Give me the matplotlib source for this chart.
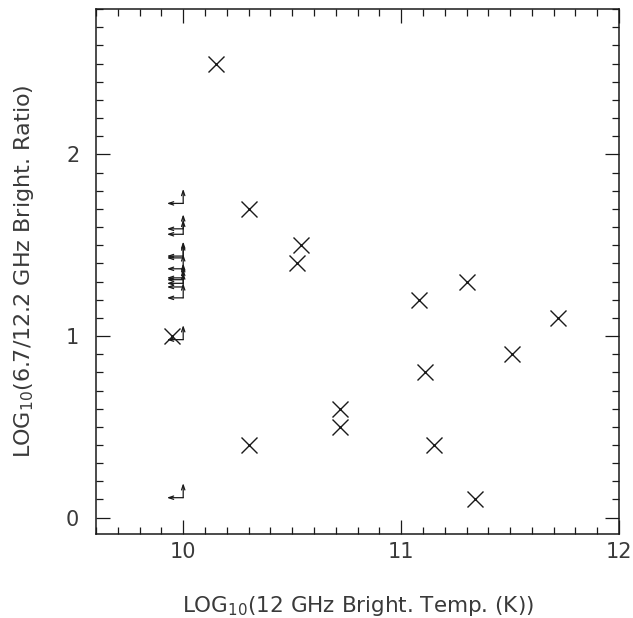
import numpy as np
import matplotlib
matplotlib.use('Agg')
import matplotlib.pyplot as plt
from matplotlib.ticker import MultipleLocator

# detected sources: log12 GHz brightness temperature vs log ratio
temp = [10.15, 10.30, 10.54, 10.52, 9.95, 10.30, 10.72, 10.72,
        11.08, 11.30, 11.11, 11.15, 11.34, 11.51, 11.72]
ratio = [2.50, 1.70, 1.50, 1.40, 1.00, 0.40, 0.60, 0.50,
         1.20, 1.30, 0.80, 0.40, 0.10, 0.90, 1.10]

# 6.7 GHz only sources: upper limit in temperature, lower limit in ratio
lim_temp = 10.0
lim_ratio = [1.73, 1.59, 1.56, 1.44, 1.43, 1.37, 1.32, 1.31,
             1.29, 1.27, 1.21, 0.98, 0.11]

ink = '#1a1a1a'
txt = '#3a3a3a'
plt.rcParams['font.family'] = 'DejaVu Sans'

fig = plt.figure(figsize=(6.33, 6.18), dpi=100)
ax = fig.add_axes([0.1517, 0.1359, 0.8263, 0.8495])

ax.plot(temp, ratio, 'x', color=ink, markersize=11, markeredgewidth=1.0)

dx = 0.075
dy = 0.08
head = dict(arrowstyle='->,head_length=0.35,head_width=0.12', color=ink,
            lw=0.9, shrinkA=0, shrinkB=0)
for r in lim_ratio:
    ax.annotate('', xy=(lim_temp - dx, r), xytext=(lim_temp, r), arrowprops=head)
    ax.annotate('', xy=(lim_temp, r + dy), xytext=(lim_temp, r), arrowprops=head)

ax.set_xlim(9.6, 12.0)
ax.set_ylim(-0.09, 2.8)
ax.xaxis.set_major_locator(MultipleLocator(1))
ax.xaxis.set_minor_locator(MultipleLocator(0.1))
ax.yaxis.set_major_locator(MultipleLocator(1))
ax.yaxis.set_minor_locator(MultipleLocator(0.1))

ax.tick_params(which='both', direction='in', top=True, right=True,
               color=ink, width=0.9, labelcolor=txt, labelsize=15)
ax.tick_params(which='major', length=10)
ax.tick_params(which='minor', length=5)
ax.tick_params(axis='x', pad=6)
ax.tick_params(axis='y', pad=12)
for s in ax.spines.values():
    s.set_color(ink)
    s.set_linewidth(1.1)

ax.set_xlabel('LOG$_{10}$(12 GHz Bright. Temp. (K))', fontsize=15.5,
              color=txt, labelpad=23)
ax.set_ylabel('LOG$_{10}$(6.7/12.2 GHz Bright. Ratio)', fontsize=16,
              color=txt, labelpad=22)

fig.savefig('out.png', dpi=100)
